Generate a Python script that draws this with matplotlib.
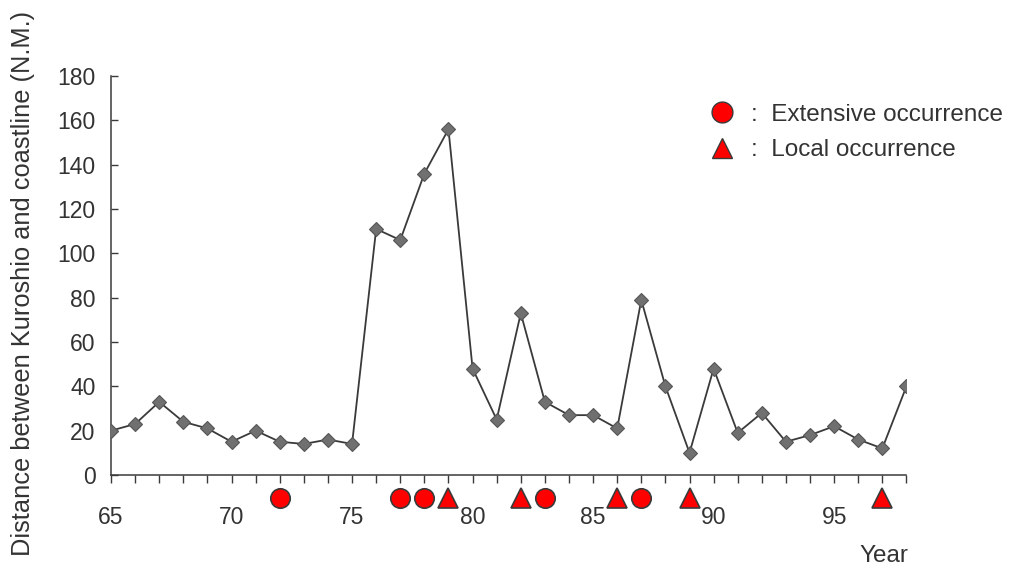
""" Kuroshio distance from the coastline, with occurrence events per year. """

import numpy as np
from matplotlib import pyplot as plt
from matplotlib.lines import Line2D

plt.rcParams['font.family'] = ['Liberation Sans', 'DejaVu Sans']

# Distance between Kuroshio and coastline (N.M.), yearly 1965-1998
years = np.arange(65, 99)
distance = [20, 23, 33, 24, 21, 15, 20, 15, 14, 16, 14,
            111, 106, 136, 156, 48, 25, 73, 33, 27, 27,
            21, 79, 40, 10, 48, 19, 28, 15, 18, 22, 16, 12, 40]

# Years of occurrence
extensive_years = [72, 77, 78, 83, 87]
local_years = [79, 82, 86, 89, 97]

ytick_vals = np.arange(0, 181, 20)
xtick_major = [65, 70, 75, 80, 85, 90, 95]

TXT = '#333333'
RED = '#ff0000'

fig = plt.figure(figsize=(10.12, 5.74), dpi=100)
ax = fig.add_axes([0.1097, 0.1725, 0.786, 0.695])

ax.plot(years, distance, color='#3a3a3a', lw=1.3,
        marker='D', ms=7.5, mfc='#707070', mec='#555555', mew=0.8,
        zorder=3)

# Event symbols sit just below the year axis
ev_y = -10.5
ax.plot(extensive_years, [ev_y] * len(extensive_years), ls='none',
        marker='o', ms=14, mfc=RED, mec='#3a3a3a', mew=1.2, clip_on=False,
        zorder=4)
ax.plot(local_years, [ev_y] * len(local_years), ls='none',
        marker='^', ms=14, mfc=RED, mec='#3a3a3a', mew=1.2, clip_on=False,
        zorder=4)

# Axes
ax.set_xlim(65, 98)
ax.set_ylim(0, 180)
for side in ['top', 'right']:
    ax.spines[side].set_visible(False)
for side in ['left', 'bottom']:
    ax.spines[side].set_color('#3a3a3a')
    ax.spines[side].set_linewidth(1.1)

ax.set_xticks(np.arange(65, 99), minor=True)
ax.set_xticks(xtick_major)
ax.tick_params(axis='x', which='both', direction='out', length=6,
               width=1.0, color='#3a3a3a', pad=16, labelsize=16.5,
               labelcolor=TXT)
ax.set_yticks(ytick_vals)
ax.tick_params(axis='y', direction='in', length=5, width=1.0,
               color='#3a3a3a', pad=11, labelsize=16.5, labelcolor=TXT)

ax.set_ylabel('Distance between Kuroshio and coastline (N.M.)',
              fontsize=18.3, color=TXT)
ax.yaxis.set_label_coords(-0.095, 0.48)

fig.text(0.898, 0.012, 'Year', ha='right', va='bottom', fontsize=17.5,
         color=TXT)

# Legend
handles = [Line2D([], [], ls='none', marker='o', ms=15, mfc=RED,
                  mec='#3a3a3a', mew=1.0),
           Line2D([], [], ls='none', marker='^', ms=15, mfc=RED,
                  mec='#3a3a3a', mew=1.0)]
ax.legend(handles, [':  Extensive occurrence', ':  Local occurrence'],
          loc='upper left', bbox_to_anchor=(0.725, 0.985), frameon=False,
          fontsize=17.5, handlelength=1.0, handletextpad=0.7,
          labelspacing=0.55, labelcolor=TXT)

plt.savefig('out.png', dpi=100)
